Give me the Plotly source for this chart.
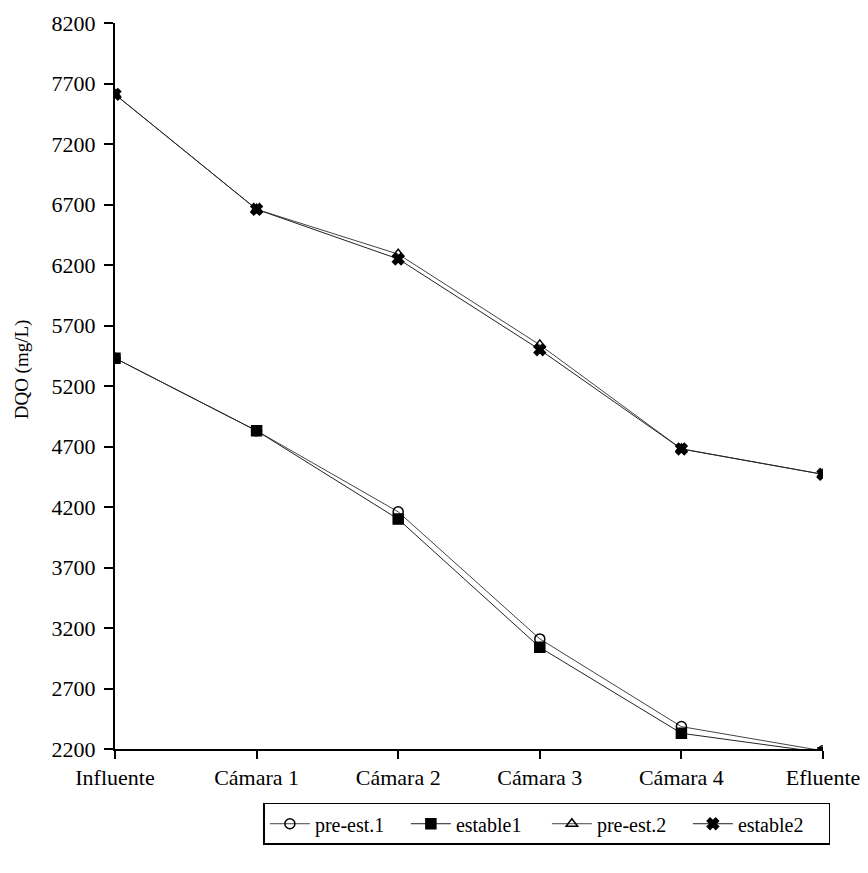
import plotly.graph_objects as go

categories = ["Influente", "Cámara 1", "Cámara 2", "Cámara 3", "Cámara 4", "Efluente"]
pre_est1 = [5430, 4830, 4160, 3110, 2385, 2185]
estable1 = [5430, 4830, 4100, 3040, 2330, 2170]
pre_est2 = [7610, 6660, 6290, 5540, 4680, 4470]
estable2 = [7610, 6660, 6250, 5500, 4680, 4470]
y_ticks = [2200, 2700, 3200, 3700, 4200, 4700, 5200, 5700, 6200, 6700, 7200, 7700, 8200]

xs = list(range(len(categories)))
font = "Liberation Serif, Times New Roman, serif"

fig = go.Figure()
series = [
    ("pre-est.1", pre_est1, "circle-open", "#444"),
    ("estable1", estable1, "square", "#222"),
    ("pre-est.2", pre_est2, "triangle-up-open", "#444"),
    ("estable2", estable2, "x", "#222"),
]
for name, vals, sym, col in series:
    fig.add_trace(go.Scatter(
        x=xs, y=vals, name=name, mode="lines+markers",
        line=dict(color=col, width=1),
        marker=dict(symbol=sym, size=10, color="black",
                    line=dict(color="black", width=1.5)),
    ))

fig.add_annotation(
    text="DQO (mg/L)", textangle=-90, xref="paper", yref="paper",
    x=0, y=0.523, xanchor="center", yanchor="middle", xshift=-93, showarrow=False,
    font=dict(size=19, family=font, color="black"),
)

fig.update_layout(
    width=868, height=873,
    margin=dict(l=115, r=45, t=23, b=124),
    paper_bgcolor="white", plot_bgcolor="white",
    font=dict(family=font, size=22, color="black"),
    showlegend=True,
    legend=dict(orientation="h", x=0.61, xanchor="center", y=-0.074, yanchor="top",
                bordercolor="black", borderwidth=1.5, font=dict(size=20, family=font),
                itemwidth=40, tracegroupgap=0, entrywidth=86, entrywidthmode="pixels"),
    xaxis=dict(range=[0, 5], tickvals=xs, ticktext=categories, showgrid=False,
               zeroline=False, showline=True, linecolor="black", linewidth=2,
               ticks="outside", ticklen=8, tickwidth=2, tickcolor="black",
               automargin=False,
               tickfont=dict(size=22, family=font)),
    yaxis=dict(range=[2200, 8200], tickvals=y_ticks, showgrid=False,
               zeroline=False, showline=True, linecolor="black", linewidth=2,
               ticks="outside", ticklen=9, tickwidth=1.5, tickcolor="black",
               ticklabelstandoff=4, automargin=False,
               tickfont=dict(size=22, family=font)),
)
fig.write_html("out.html")
